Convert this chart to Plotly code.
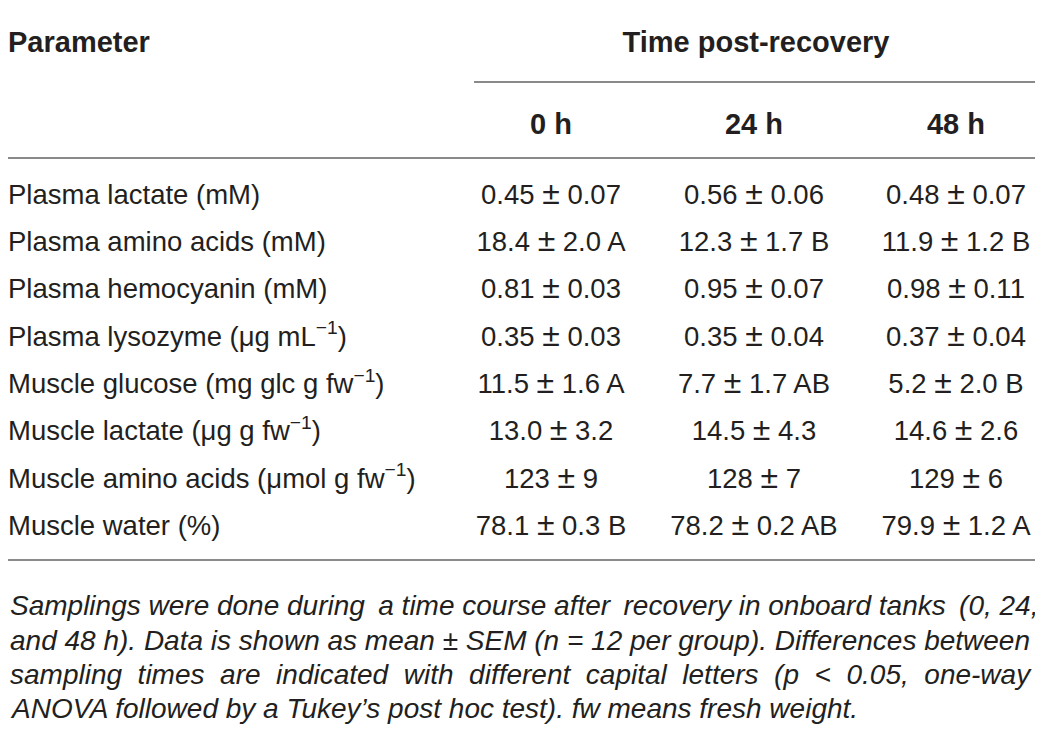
import plotly.graph_objects as go

W, H = 1043, 738

parameters = [
    "Plasma lactate (mM)",
    "Plasma amino acids (mM)",
    "Plasma hemocyanin (mM)",
    "Plasma lysozyme (μg mL<sup>−1</sup>)",
    "Muscle glucose (mg glc g fw<sup>−1</sup>)",
    "Muscle lactate (μg g fw<sup>−1</sup>)",
    "Muscle amino acids (μmol g fw<sup>−1</sup>)",
    "Muscle water (%)",
]
values_0h = ["0.45 ± 0.07", "18.4 ± 2.0 A", "0.81 ± 0.03", "0.35 ± 0.03",
             "11.5 ± 1.6 A", "13.0 ± 3.2", "123 ± 9", "78.1 ± 0.3 B"]
values_24h = ["0.56 ± 0.06", "12.3 ± 1.7 B", "0.95 ± 0.07", "0.35 ± 0.04",
              "7.7 ± 1.7 AB", "14.5 ± 4.3", "128 ± 7", "78.2 ± 0.2 AB"]
values_48h = ["0.48 ± 0.07", "11.9 ± 1.2 B", "0.98 ± 0.11", "0.37 ± 0.04",
              "5.2 ± 2.0 B", "14.6 ± 2.6", "129 ± 6", "79.9 ± 1.2 A"]
time_labels = ["0 h", "24 h", "48 h"]
header_param = "Parameter"
header_group = "Time post-recovery"
caption_lines = [
    "Samplings were done during a time course after recovery in onboard tanks (0, 24,",
    "and 48 h). Data is shown as mean ± SEM (n = 12 per group). Differences between",
    "sampling times are indicated with different capital letters (p &lt; 0.05, one-way",
    "ANOVA followed by a Tukey’s post hoc test). fw means fresh weight.",
]
# extra inter-word padding to mimic the justified caption (last line is ragged)
caption_pad = ["\u2009", "", "\u00a0", ""]
caption_pad_every = [4, 1, 1, 1]

FONT = "Liberation Sans, Arial, sans-serif"
TXT = "#231f20"
LINE = "#8a8a8a"
FS = 27.5
FS_HEAD = 29
FS_CAP = 28
PM = '<span style="font-size:32px">±</span>'


def fmt(s):
    return s.replace("±", PM)


def justify(line, pad, every):
    if not pad:
        return line
    words = line.split(" ")
    out = words[0]
    for i, w in enumerate(words[1:], start=1):
        out += " " + (pad if i % every == 0 else "") + w
    return out


OFF = 8  # page body margin
col_x = [551, 754, 956]
param_x = 8
row_y0, row_dy = 197, 47.3
row_y = [row_y0 + i * row_dy for i in range(len(parameters))]

fig = go.Figure()

fig.add_trace(go.Scatter(
    x=[param_x] * len(parameters), y=row_y, text=parameters, mode="text",
    textposition="middle right", textfont=dict(family=FONT, size=FS, color=TXT),
    hoverinfo="skip", showlegend=False))

for cx, vals in zip(col_x, [values_0h, values_24h, values_48h]):
    fig.add_trace(go.Scatter(
        x=[cx] * len(vals), y=row_y, text=[fmt(v) for v in vals], mode="text",
        textposition="middle center", textfont=dict(family=FONT, size=FS, color=TXT),
        hoverinfo="skip", showlegend=False))

fig.add_trace(go.Scatter(
    x=[param_x], y=[45], text=[f"<b>{header_param}</b>"], mode="text",
    textposition="middle right", textfont=dict(family=FONT, size=FS_HEAD, color=TXT),
    hoverinfo="skip", showlegend=False))
fig.add_trace(go.Scatter(
    x=[756], y=[45], text=[f"<b>{header_group}</b>"], mode="text",
    textposition="middle center", textfont=dict(family=FONT, size=FS_HEAD, color=TXT),
    hoverinfo="skip", showlegend=False))
fig.add_trace(go.Scatter(
    x=col_x, y=[127] * 3, text=[f"<b>{t}</b>" for t in time_labels], mode="text",
    textposition="middle center", textfont=dict(family=FONT, size=FS_HEAD, color=TXT),
    hoverinfo="skip", showlegend=False))

cap_y = [605, 640, 674, 708]
for yy, line, pad, ev in zip(cap_y, caption_lines, caption_pad, caption_pad_every):
    fig.add_annotation(x=param_x, y=yy, xref="x", yref="y",
                       text=f"<i>{justify(line, pad, ev)}</i>",
                       showarrow=False, xanchor="left", yanchor="middle",
                       font=dict(family=FONT, size=FS_CAP, color=TXT))

for y, x0 in [(5, 4), (82, 474), (158, 4), (560, 4)]:
    fig.add_shape(type="line", x0=x0, x1=1038, y0=y, y1=y, xref="x", yref="y",
                  line=dict(color=LINE, width=2))

fig.update_layout(
    width=W, height=H, margin=dict(l=0, r=0, t=0, b=0),
    paper_bgcolor="white", plot_bgcolor="white",
    xaxis=dict(range=[OFF, W + OFF], visible=False, fixedrange=True),
    yaxis=dict(range=[H + OFF, OFF], visible=False, fixedrange=True),
)
fig.write_html("out.html")
